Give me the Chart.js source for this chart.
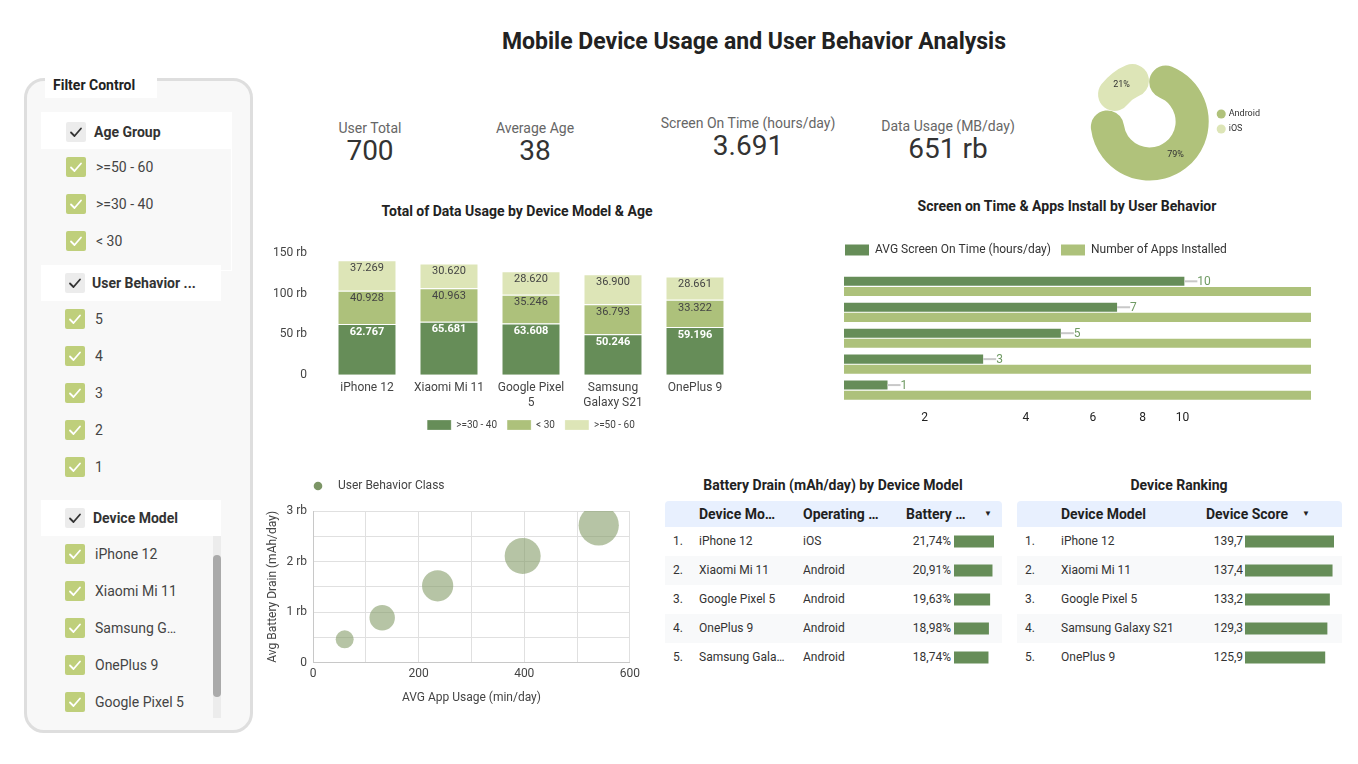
<!DOCTYPE html>
<html lang="en">
<head>
<meta charset="utf-8">
<title>Mobile Device Usage and User Behavior Analysis</title>
<script src="https://cdn.jsdelivr.net/npm/chart.js@4.4.1/dist/chart.umd.min.js"></script>
<style>
  html, body { margin:0; padding:0; background:#fff; }
  body { position:relative; width:1358px; height:764px; overflow:hidden; font-family: Roboto, "Noto Sans", Arial, sans-serif; color:#333; }
  .a { position:absolute; white-space:nowrap; }
  canvas { position:absolute; }
  .title { font-size:23px; font-weight:700; line-height:26px; color:#222; text-align:center; width:800px; }
  .ctitle { font-size:14px; font-weight:700; line-height:16px; color:#222; text-align:center; width:400px; }
  .klabel { font-size:14px; line-height:16px; color:#666; text-align:center; width:220px; }
  .kvalue { font-size:28px; line-height:32px; color:#333; text-align:center; width:220px; }
  #panel { position:absolute; left:24px; top:78px; width:229px; height:655px; box-sizing:border-box; border:3px solid #dedede; border-radius:20px; background:#f8f8f8; }
  .cb { position:absolute; width:20px; height:20px; border-radius:2px; }
  .cb svg { display:block; }
  .fitem { font-size:14px; line-height:18px; color:#444; }
  .fhead { font-size:14px; line-height:18px; color:#333; font-weight:700; }
  .hbox { position:absolute; background:#fff; }
  .thead { position:absolute; height:26px; background:#e8f0fe; border-radius:4px 4px 0 0; }
  .th { font-size:14px; font-weight:700; line-height:26px; color:#1f1f1f; }
  .arrow { font-size:8px; line-height:26px; color:#222; }
  .row { position:absolute; height:29px; }
  .td { font-size:12px; line-height:29px; color:#333; }
</style>
</head>
<body>
<div id="panel"></div>
<script>
// ---------------- DATA ----------------
const kpiLabels = ['User Total', 'Average Age', 'Screen On Time (hours/day)', 'Data Usage (MB/day)'];
const kpiValues = ['700', '38', '3.691', '651 rb'];

const deviceAxisLabels = [['iPhone 12'], ['Xiaomi Mi 11'], ['Google Pixel', '5'], ['Samsung', 'Galaxy S21'], ['OnePlus 9']];
const ageGroups = ['>=30 - 40', '< 30', '>=50 - 60'];
const usage30to40 = [62767, 65681, 63608, 50246, 59196];
const usageUnder30 = [40928, 40963, 35246, 36793, 33322];
const usage50to60 = [37269, 30620, 28620, 36900, 28661];
const usageTicks = [0, 50000, 100000, 150000];

const behaviorClasses = ['5', '4', '3', '2', '1'];
const screenOnTime = [10.1, 6.91, 4.96, 3.03, 1.49];
const appsInstalled = [90, 70, 50, 30, 15];
const screenTicks = [2, 4, 6, 8, 10];

const osLabels = ['Android', 'iOS'];
const osUsers = [554, 146];

const bubbleClasses = [1, 2, 3, 4, 5];
const appUsage = [60, 131, 236, 397, 541];
const batteryDrain = [462, 888, 1520, 2112, 2717];

const batteryModels = ['iPhone 12', 'Xiaomi Mi 11', 'Google Pixel 5', 'OnePlus 9', 'Samsung Galaxy S21'];
const batteryOS = ['iOS', 'Android', 'Android', 'Android', 'Android'];
const batteryShare = [21.74, 20.91, 19.63, 18.98, 18.74];

const rankModels = ['iPhone 12', 'Xiaomi Mi 11', 'Google Pixel 5', 'Samsung Galaxy S21', 'OnePlus 9'];
const rankScores = [139.7, 137.4, 133.2, 129.3, 125.9];

const filterAge = ['>=50 - 60', '>=30 - 40', '< 30'];
const filterBehavior = ['5', '4', '3', '2', '1'];
const filterDevices = ['iPhone 12', 'Xiaomi Mi 11', 'Samsung G…', 'OnePlus 9', 'Google Pixel 5'];

// ---------------- STYLE ----------------
const C_DARK = '#668d58', C_MID = '#adc17b', C_LIGHT = '#dde5b7', C_AND = '#b0c27b';

// ---------------- HELPERS ----------------
function el(cls, left, top, html, extra) {
  const d = document.createElement('div');
  d.className = 'a ' + cls;
  d.style.left = left + 'px'; d.style.top = top + 'px';
  if (extra) Object.assign(d.style, extra);
  d.innerHTML = html;
  document.body.appendChild(d);
  return d;
}
function mkCanvas(left, top, w, h) {
  const c = document.createElement('canvas');
  c.width = w; c.height = h;
  c.style.left = left + 'px'; c.style.top = top + 'px';
  c.style.width = w + 'px'; c.style.height = h + 'px';
  document.body.appendChild(c);
  return c;
}
function checkbox(left, cy, header) {
  const d = document.createElement('div');
  d.className = 'cb';
  d.style.left = left + 'px'; d.style.top = (cy - 10) + 'px';
  d.style.background = header ? '#ececec' : '#bfcf7b';
  d.innerHTML = '<svg width="20" height="20" viewBox="0 0 20 20"><path d="M5 10.5 L8.5 14 L15 6.5" fill="none" stroke="' + (header ? '#333' : '#fff') + '" stroke-width="1.8" stroke-linecap="round" stroke-linejoin="round"/></svg>';
  document.body.appendChild(d);
}
const dots = v => String(v).replace(/\B(?=(\d{3})+(?!\d))/g, '.');

// ---------------- TEXT ----------------
el('title', 354, 29, 'Mobile Device Usage and User Behavior Analysis');
const kpiPos = [[370, 128], [535, 128], [748, 123], [948, 126]];
kpiLabels.forEach((t, i) => {
  el('klabel', kpiPos[i][0] - 110, kpiPos[i][1] - 8, t);
  el('kvalue', kpiPos[i][0] - 110, kpiPos[i][1] + 7, kpiValues[i]);
});
el('ctitle', 317, 203, 'Total of Data Usage by Device Model &amp; Age');
el('ctitle', 867, 198, 'Screen on Time &amp; Apps Install by User Behavior');
el('ctitle', 633, 477, 'Battery Drain (mAh/day) by Device Model');
el('ctitle', 979, 477, 'Device Ranking');

// ---------------- FILTER PANEL ----------------
el('', 45, 72, 'Filter Control', {width:'112px', height:'26px', background:'#fff', fontSize:'14px', fontWeight:'700', lineHeight:'26px', paddingLeft:'8px', boxSizing:'border-box', color:'#222'});
el('', 41, 149, '', {width:'191px', height:'122px', borderRight:'1px solid #fff', borderBottom:'1px solid #fff', boxSizing:'border-box'});
const sections = [
  {hTop:112, hW:191, hH:37, hCb:66, hCy:132, hText:94, title:'Age Group', items:filterAge, first:167, cb:66, txt:96},
  {hTop:265, hW:180, hH:36, hCb:65, hCy:283, hText:92, title:'User Behavior ...', items:filterBehavior, first:319, cb:65, txt:95},
  {hTop:500, hW:180, hH:36, hCb:65, hCy:518, hText:93, title:'Device Model', items:filterDevices, first:554, cb:65, txt:95}
];
sections.forEach(s => {
  el('hbox', 41, s.hTop, '', {width:s.hW + 'px', height:s.hH + 'px'});
  checkbox(s.hCb, s.hCy, true);
  el('fhead', s.hText, s.hCy - 9, s.title);
  s.items.forEach((t, i) => {
    const cy = s.first + 37 * i;
    checkbox(s.cb, cy, false);
    el('fitem', s.txt, cy - 9, t);
  });
});
el('', 213, 536, '', {width:'8px', height:'182px', background:'#ececec'});
el('', 213, 555, '', {width:'8px', height:'142px', background:'#aaaaaa', borderRadius:'4px'});

// ---------------- TABLES ----------------
function table(left, top, width, headers, rows) {
  const h = document.createElement('div');
  h.className = 'thead';
  Object.assign(h.style, {left:left + 'px', top:top + 'px', width:width + 'px'});
  document.body.appendChild(h);
  headers.forEach(hd => {
    const s = document.createElement('div');
    s.className = 'a ' + (hd.arrow ? 'arrow' : 'th');
    s.style.left = hd.x + 'px'; s.style.top = '0px';
    s.textContent = hd.t;
    h.appendChild(s);
  });
  rows.forEach((r, i) => {
    const row = document.createElement('div');
    row.className = 'row';
    Object.assign(row.style, {left:left + 'px', top:(top + 26 + 29 * i) + 'px', width:width + 'px', background:(i % 2 ? '#f8f9fa' : '#fff')});
    r.forEach(c => {
      const s = document.createElement('div');
      s.className = 'a td';
      s.style.left = c.x + 'px'; s.style.top = '0px';
      if (c.w) { s.style.width = c.w + 'px'; s.style.overflow = 'hidden'; s.style.textOverflow = 'ellipsis'; }
      if (c.right) { s.style.textAlign = 'right'; }
      s.textContent = c.t;
      row.appendChild(s);
    });
    document.body.appendChild(row);
  });
}
table(665, 501, 337,
  [{x:34, t:'Device Mo…'}, {x:138, t:'Operating …'}, {x:241, t:'Battery …'}, {x:319, t:'▼', arrow:true}],
  batteryModels.map((m, i) => [
    {x:8, t:(i + 1) + '.'}, {x:34, t:m, w:89}, {x:138, t:batteryOS[i]},
    {x:206, t:batteryShare[i].toFixed(2).replace('.', ',') + '%', w:80, right:true}
  ]));
table(1017, 501, 325,
  [{x:44, t:'Device Model'}, {x:189, t:'Device Score'}, {x:285, t:'▼', arrow:true}],
  rankModels.map((m, i) => [
    {x:8, t:(i + 1) + '.'}, {x:44, t:m},
    {x:146, t:rankScores[i].toFixed(1).replace('.', ','), w:80, right:true}
  ]));

// ---------------- CHART.JS ----------------
Chart.defaults.font.family = 'Roboto, "Noto Sans", sans-serif';
Chart.defaults.font.size = 12;
Chart.defaults.color = '#444';
Chart.defaults.animation = false;
Chart.defaults.responsive = false;
Chart.defaults.events = [];
Chart.defaults.plugins.tooltip.enabled = false;

class Log1pScale extends Chart.LinearScale {
  getPixelForValue(value) {
    if (value === null || value === undefined || isNaN(value)) return NaN;
    const v = Math.max(value, this.min);
    const a = Math.log1p(this.min), b = Math.log1p(this.max);
    return this.getPixelForDecimal((Math.log1p(v) - a) / (b - a));
  }
  getValueForPixel(pixel) {
    const a = Math.log1p(this.min), b = Math.log1p(this.max);
    return Math.expm1(a + this.getDecimalForPixel(pixel) * (b - a));
  }
}
Log1pScale.id = 'log1p';
Log1pScale.defaults = Chart.LinearScale.defaults;
Chart.register(Log1pScale);

const hidden = (pos, size, extra) => Object.assign({
  position: pos, display: true,
  grid: {display: false, drawTicks: false}, border: {display: false}, ticks: {display: false},
  afterFit: s => { if (pos === 'top' || pos === 'bottom') s.height = size; else s.width = size; }
}, extra || {});
// invisible grid whose tick length acts as the gap between axis and labels
const gapGrid = len => ({display: true, color: 'transparent', drawOnChartArea: false, drawTicks: true, tickLength: len});

// 1. Stacked bars
const stackLabels = {
  id: 'stackLabels',
  afterDatasetsDraw(chart) {
    const ctx = chart.ctx;
    ctx.save();
    ctx.textAlign = 'center'; ctx.textBaseline = 'middle';
    chart.data.datasets.forEach((ds, di) => {
      chart.getDatasetMeta(di).data.forEach((bar, i) => {
        ctx.font = (di === 0 ? 'bold ' : '') + '11px Roboto';
        ctx.fillStyle = di === 0 ? '#ffffff' : '#444444';
        ctx.fillText(dots(ds.data[i]), bar.x, bar.y + 8);
      });
    });
    ctx.restore();
  }
};
new Chart(mkCanvas(262, 240, 538, 200), {
  type: 'bar',
  data: {
    labels: deviceAxisLabels,
    datasets: [
      {label: ageGroups[0], data: usage30to40, backgroundColor: C_DARK},
      {label: ageGroups[1], data: usageUnder30, backgroundColor: C_MID},
      {label: ageGroups[2], data: usage50to60, backgroundColor: C_LIGHT}
    ].map(d => Object.assign(d, {borderColor: '#fff', borderWidth: {top: 1}}))
  },
  options: {
    barPercentage: 0.7, categoryPercentage: 1,
    layout: {padding: {top: 13}},
    scales: {
      x: {stacked: true, grid: gapGrid(6), border: {display: false},
          ticks: {padding: 0, maxRotation: 0, autoSkip: false, color: '#444'}},
      y: {stacked: true, min: usageTicks[0], max: usageTicks[usageTicks.length - 1],
          grid: gapGrid(19), border: {display: false},
          afterBuildTicks: s => { s.ticks = usageTicks.map(v => ({value: v})); },
          ticks: {padding: 0, color: '#444', callback: v => v === 0 ? '0' : (v / 1000) + ' rb'},
          afterFit: s => { s.width = 64; }},
      y2: hidden('right', 64)
    },
    plugins: {
      legend: {position: 'bottom', labels: {boxWidth: 24, boxHeight: 10, padding: 10, font: {size: 10}, color: '#444'}}
    }
  },
  plugins: [stackLabels]
});

// 2. Horizontal bars
const barValueLabels = {
  id: 'barValueLabels',
  afterDatasetsDraw(chart) {
    const ctx = chart.ctx;
    const ds = chart.data.datasets[0];
    ctx.save();
    chart.getDatasetMeta(0).data.forEach((bar, i) => {
      ctx.strokeStyle = '#c8c8c8'; ctx.lineWidth = 2;
      ctx.beginPath(); ctx.moveTo(bar.x, bar.y); ctx.lineTo(bar.x + 13, bar.y); ctx.stroke();
      ctx.fillStyle = '#6f9a63'; ctx.font = '12px Roboto';
      ctx.textAlign = 'left'; ctx.textBaseline = 'middle';
      ctx.fillText(String(Math.round(ds.data[i])), bar.x + 13, bar.y + 0.5);
    });
    ctx.restore();
  }
};
new Chart(mkCanvas(815, 234, 515, 191), {
  type: 'bar',
  data: {
    labels: behaviorClasses,
    datasets: [
      {label: 'AVG Screen On Time (hours/day)', data: screenOnTime, backgroundColor: C_DARK, xAxisID: 'x', clip: 0},
      {label: 'Number of Apps Installed', data: appsInstalled, backgroundColor: C_MID, xAxisID: 'x2', clip: 0}
    ]
  },
  options: {
    indexAxis: 'y',
    categoryPercentage: 0.78, barPercentage: 0.9,
    layout: {padding: {left: 20, right: 19}},
    scales: {
      x: {type: 'log1p', position: 'bottom', min: 1, max: 20,
          afterBuildTicks: s => { s.ticks = screenTicks.map(v => ({value: v})); },
          grid: gapGrid(7.5), border: {display: false},
          ticks: {padding: 0, color: '#222'}},
      x2: hidden('top', 7.4, {type: 'linear', min: 0, max: 10}),
      y: {grid: {display: false, drawTicks: false}, border: {display: false},
          ticks: {padding: 11, color: '#222'}, afterFit: s => { s.width = 9; }}
    },
    plugins: {
      legend: {position: 'top', align: 'start', labels: {boxWidth: 24, boxHeight: 11, padding: 10, font: {size: 12}, color: '#333'}}
    }
  },
  plugins: [barValueLabels]
});

// 3. Bubble
const dotImg = document.createElement('canvas');
dotImg.width = 19; dotImg.height = 12;
(function () { const g = dotImg.getContext('2d'); g.fillStyle = '#7c9566'; g.beginPath(); g.arc(5, 6, 4.3, 0, Math.PI * 2); g.fill(); })();
new Chart(mkCanvas(262, 470, 388, 239), {
  type: 'bubble',
  data: {
    datasets: [{
      label: 'User Behavior Class',
      data: appUsage.map((x, i) => ({x: x, y: batteryDrain[i]})),
      backgroundColor: 'rgba(130,153,100,0.58)', borderWidth: 0,
      radius: ctx => 9 * Math.sqrt(bubbleClasses[ctx.dataIndex])
    }]
  },
  options: {
    layout: {padding: {top: 10, right: 18}},
    scales: {
      x: {min: 0, max: 600, grid: {color: '#e0e0e0', drawTicks: false}, border: {color: '#c8c8c8'},
          ticks: {stepSize: 100, padding: 4, color: '#444', callback: v => v % 200 === 0 ? String(v) : ''},
          title: {display: true, text: 'AVG App Usage (min/day)', color: '#444', font: {size: 12}, padding: {top: 5.5, bottom: 4}}},
      x2: hidden('top', 9, {type: 'linear'}),
      y: {min: 0, max: 3000, grid: {color: '#e0e0e0', drawTicks: false}, border: {color: '#c8c8c8'},
          ticks: {stepSize: 500, padding: 6, color: '#444', callback: v => v % 1000 === 0 ? (v === 0 ? '0' : (v / 1000) + ' rb') : ''},
          title: {display: true, text: 'Avg Battery Drain (mAh/day)', color: '#444', font: {size: 12}, padding: {top: 4, bottom: 0}},
          afterFit: s => { s.width = 51; }}
    },
    plugins: {
      legend: {position: 'top', align: 'start', fullSize: false,
               labels: {usePointStyle: true, pointStyle: dotImg, pointStyleWidth: 19, padding: 0, font: {size: 12}, color: '#444'}}
    }
  }
});

// 4. Doughnut
const donutLabels = {
  id: 'donutLabels',
  afterDatasetsDraw(chart) {
    const ds = chart.data.datasets[0];
    const total = ds.data.reduce((a, b) => a + b, 0);
    const ctx = chart.ctx;
    ctx.save();
    ctx.font = '9px Roboto'; ctx.fillStyle = '#333';
    ctx.textAlign = 'center'; ctx.textBaseline = 'middle';
    chart.getDatasetMeta(0).data.forEach((arc, i) => {
      const p = arc.tooltipPosition();
      ctx.fillText(Math.round(ds.data[i] / total * 100) + '%', p.x, p.y);
    });
    ctx.restore();
  }
};
new Chart(mkCanvas(1087, 58, 183, 127), {
  type: 'doughnut',
  data: {labels: osLabels, datasets: [{data: osUsers, backgroundColor: [C_AND, C_LIGHT], borderWidth: 0, borderRadius: 18, offset: [0, 7]}]},
  options: {
    cutout: '44%',
    plugins: {legend: {position: 'right', labels: {usePointStyle: true, pointStyle: 'circle', boxWidth: 6, boxHeight: 6.4, padding: 6, font: {size: 9}, color: '#333'}}}
  },
  plugins: [donutLabels]
});

// 5. Table bars
function miniBars(left, top, w, values) {
  new Chart(mkCanvas(left, top, w, 145), {
    type: 'bar',
    data: {labels: values.map((_, i) => String(i + 1)), datasets: [{data: values, backgroundColor: C_DARK, barPercentage: 12 / 29, categoryPercentage: 1}]},
    options: {
      indexAxis: 'y', layout: {padding: 0},
      scales: {x: {display: false, min: 0, max: Math.max(...values)}, y: {display: false}},
      plugins: {legend: {display: false}}
    }
  });
}
miniBars(954, 527, 40, batteryShare);
miniBars(1245, 527, 89, rankScores);
</script>
</body>
</html>
